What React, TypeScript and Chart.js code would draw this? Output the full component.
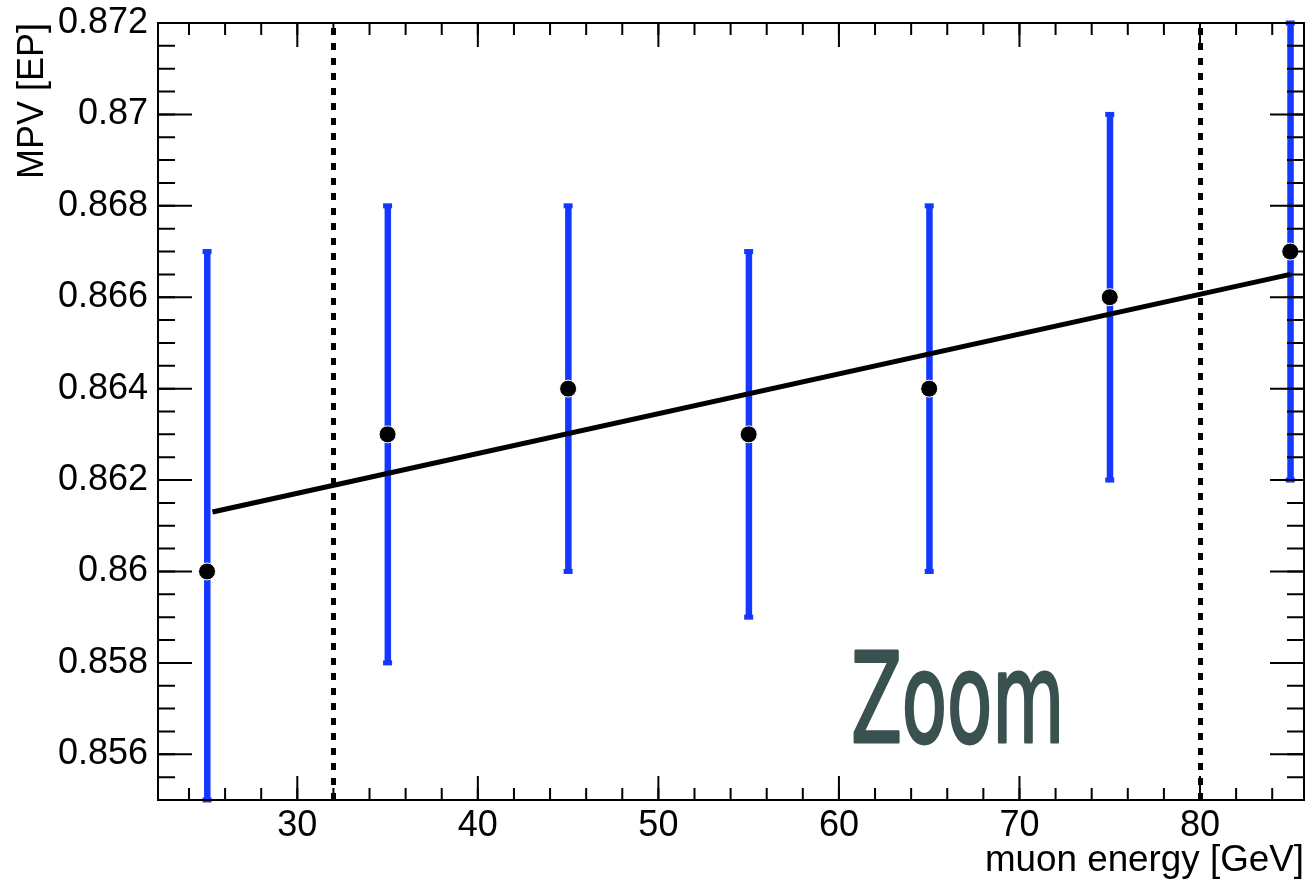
import React, { useEffect, useRef } from "react";
import { Chart, registerables } from "chart.js";

Chart.register(...registerables);

// ---------- data ----------
const energies = [25, 35, 45, 55, 65, 75, 85];
const mpvValues = [0.86, 0.863, 0.864, 0.863, 0.864, 0.866, 0.867];
const mpvErrors = [0.007, 0.005, 0.004, 0.004, 0.004, 0.004, 0.005];
const fitEnergies = [25.3, 85.0];
const fitValues = [0.8613, 0.8665];
const cutEnergies = [32, 80];

const xTickValues = [30, 40, 50, 60, 70, 80];
const xTickLabels = ["30", "40", "50", "60", "70", "80"];
const yTickValues = [0.856, 0.858, 0.86, 0.862, 0.864, 0.866, 0.868, 0.87, 0.872];
const yTickLabels = ["0.856", "0.858", "0.86", "0.862", "0.864", "0.866", "0.868", "0.87", "0.872"];
const xMinorStep = 2;
const yMinorStep = 0.0005;
const xMin = 22.284;
const xMax = 85.76;
const yMin = 0.855;
const yMax = 0.872;

const zoomLabelText = "Zoom";
const zoomLabelX = 60.78;
const zoomLabelY = 0.85625;

// ---------- style ----------
const FONT = '"Liberation Sans", Arial, Helvetica, sans-serif';
const BLUE = "rgb(20, 56, 255)";
const ZOOM_COLOR = "#3a524f";

function minorValues(min: number, max: number, step: number): number[] {
  const out: number[] = [];
  const k0 = Math.ceil(min / step - 1e-6);
  const k1 = Math.floor(max / step + 1e-6);
  for (let k = k0; k <= k1; k++) out.push(k * step);
  return out;
}

const rootStylePlugin = {
  id: "rootStyle",
  beforeDatasetsDraw(chart: any) {
    const { ctx, chartArea: a } = chart;
    const x = chart.scales.x;
    const y = chart.scales.y;
    // dotted cut lines
    ctx.save();
    ctx.beginPath();
    ctx.rect(a.left, a.top, a.right - a.left, a.bottom - a.top);
    ctx.clip();
    ctx.strokeStyle = "#000";
    ctx.lineWidth = 5;
    ctx.setLineDash([7, 8]);
    for (const e of cutEnergies) {
      const px = Math.round(x.getPixelForValue(e)) + 0.5;
      ctx.beginPath();
      ctx.moveTo(px, a.bottom);
      ctx.lineTo(px, a.top);
      ctx.stroke();
    }
    ctx.restore();
    // error bars
    ctx.save();
    ctx.fillStyle = BLUE;
    energies.forEach((e, i) => {
      const px = x.getPixelForValue(e);
      let top = y.getPixelForValue(mpvValues[i] + mpvErrors[i]);
      let bot = y.getPixelForValue(mpvValues[i] - mpvErrors[i]);
      top = Math.max(top, a.top);
      bot = Math.min(bot, a.bottom);
      ctx.fillRect(px - 3, top, 6.5, bot - top);
      ctx.fillRect(px - 4.5, top - 2.5, 9, 5);
      ctx.fillRect(px - 4.5, bot - 2.5, 9, 5);
    });
    ctx.restore();
  },
  afterDatasetsDraw(chart: any) {
    const { ctx, chartArea: a } = chart;
    const x = chart.scales.x;
    const y = chart.scales.y;
    ctx.save();
    ctx.strokeStyle = "#000";
    ctx.lineWidth = 2;
    // x ticks (top and bottom)
    const xMinor = minorValues(xMin, xMax, xMinorStep);
    const drawX = (v: number, len: number) => {
      const px = x.getPixelForValue(v);
      ctx.beginPath();
      ctx.moveTo(px, a.bottom);
      ctx.lineTo(px, a.bottom - len);
      ctx.moveTo(px, a.top);
      ctx.lineTo(px, a.top + len);
      ctx.stroke();
    };
    xMinor.forEach((v) => drawX(v, 12));
    xTickValues.forEach((v) => drawX(v, 24));
    // y ticks (left and right)
    const yMinor = minorValues(yMin, yMax, yMinorStep);
    const drawY = (v: number, len: number) => {
      const py = y.getPixelForValue(v);
      ctx.beginPath();
      ctx.moveTo(a.left, py);
      ctx.lineTo(a.left + len, py);
      ctx.moveTo(a.right, py);
      ctx.lineTo(a.right - len, py);
      ctx.stroke();
    };
    yMinor.forEach((v) => drawY(v, 17));
    yTickValues.forEach((v) => drawY(v, 34));
    // frame
    ctx.strokeRect(a.left, a.top, a.right - a.left, a.bottom - a.top);
    ctx.restore();

    // "Zoom" label
    ctx.save();
    const baseFamily = '"Liberation Sans Narrow", "DejaVu Sans Condensed", "Liberation Sans", sans-serif';
    ctx.font = `128px ${baseFamily}`;
    let m = ctx.measureText(zoomLabelText);
    const size = (128 * 91) / (m.actualBoundingBoxAscent || 91);
    ctx.font = `${size}px ${baseFamily}`;
    m = ctx.measureText(zoomLabelText);
    const inkW = m.actualBoundingBoxLeft + m.actualBoundingBoxRight;
    const targetW = 204;
    const sx = targetW / inkW;
    const zx = x.getPixelForValue(zoomLabelX);
    const zy = y.getPixelForValue(zoomLabelY);
    ctx.translate(zx + 1.5 + m.actualBoundingBoxLeft * sx, zy - 1);
    ctx.scale(sx, 1);
    ctx.textAlign = "left";
    ctx.textBaseline = "alphabetic";
    ctx.fillStyle = ZOOM_COLOR;
    ctx.strokeStyle = ZOOM_COLOR;
    ctx.lineWidth = 3;
    ctx.lineJoin = "round";
    ctx.fillText(zoomLabelText, 0, 0);
    ctx.strokeText(zoomLabelText, 0, 0);
    ctx.restore();
  },
};

export default function App() {
  const canvasRef = useRef<HTMLCanvasElement | null>(null);

  useEffect(() => {
    document.body.style.margin = "0";
    document.body.style.overflow = "hidden";
    const canvas = canvasRef.current;
    if (!canvas) return;

    const points = energies.map((e, i) => ({ x: e, y: mpvValues[i] }));
    const fit = fitEnergies.map((e, i) => ({ x: e, y: fitValues[i] }));

    const chart = new Chart(canvas, {
      type: "scatter",
      data: {
        datasets: [
          {
            type: "scatter",
            data: points,
            pointRadius: 8.5,
            pointHoverRadius: 8.5,
            backgroundColor: "#000",
            borderColor: "#fff",
            borderWidth: 1,
          } as any,
          {
            type: "line",
            data: fit,
            borderColor: "#000",
            borderWidth: 5,
            pointRadius: 0,
            fill: false,
            tension: 0,
          } as any,
        ],
      },
      options: {
        animation: false,
        responsive: false,
        devicePixelRatio: 1,
        layout: { autoPadding: false, padding: { top: 23, right: 4, left: 0, bottom: 0 } },
        plugins: {
          legend: { display: false },
          tooltip: { enabled: false },
        },
        scales: {
          x: {
            type: "linear",
            position: "bottom",
            min: xMin,
            max: xMax,
            afterBuildTicks(s: any) {
              s.ticks = xTickValues.map((v) => ({ value: v }));
            },
            afterFit(s: any) {
              s.height = 84;
              s.paddingLeft = 0;
              s.paddingRight = 0;
            },
            grid: { display: false, drawTicks: false },
            border: { display: false },
            ticks: {
              autoSkip: false,
              maxRotation: 0,
              minRotation: 0,
              padding: 4,
              color: "#000",
              font: { family: FONT, size: 36 },
              callback: (_v: any, i: number) => xTickLabels[i],
            },
            title: {
              display: true,
              text: "muon energy [GeV]",
              align: "end",
              color: "#000",
              font: { family: FONT, size: 36.8 },
              padding: { top: 0, bottom: 1 },
            },
          },
          y: {
            type: "linear",
            position: "left",
            min: yMin,
            max: yMax,
            afterBuildTicks(s: any) {
              s.ticks = yTickValues.map((v) => ({ value: v }));
            },
            afterFit(s: any) {
              s.width = 158;
              s.paddingTop = 0;
              s.paddingBottom = 0;
            },
            grid: { display: false, drawTicks: false },
            border: { display: false },
            ticks: {
              autoSkip: false,
              padding: 10,
              color: "#000",
              font: { family: FONT, size: 36 },
              callback: (_v: any, i: number) => yTickLabels[i],
            },
            title: {
              display: true,
              text: "MPV [EP]",
              align: "end",
              color: "#000",
              font: { family: FONT, size: 36 },
              padding: { top: 11, bottom: 0 },
            },
          },
        },
      } as any,
      plugins: [rootStylePlugin],
    });

    return () => chart.destroy();
  }, []);

  return (
    <div style={{ position: "absolute", left: 0, top: 0, width: 1308, height: 884, background: "#fff" }}>
      <canvas ref={canvasRef} width={1308} height={884} style={{ display: "block", width: 1308, height: 884 }} />
    </div>
  );
}
